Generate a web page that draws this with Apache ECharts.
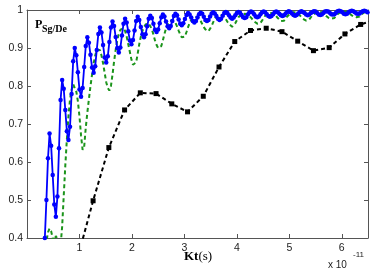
<!DOCTYPE html>
<html>
<head>
<meta charset="utf-8">
<script src="https://cdn.jsdelivr.net/npm/echarts@6/dist/echarts.min.js"></script>
<style>
html,body{margin:0;padding:0;background:#fff;}
#c{width:374px;height:275px;}
</style>
</head>
<body>
<div id="c"></div>
<script>
// time grid (units of 1e-11 s) for the blue and green curves
const tStart = 0.34;
const tStep = 0.03;

const blueY = [
0.40,0.50,0.61,0.675,
0.643,0.566,0.488,0.456,
0.509,0.636,0.763,0.816,
0.793,0.737,0.681,0.658,
0.693,0.779,0.865,0.900,
0.881,0.836,0.791,0.772,
0.795,0.850,0.905,0.928,
0.914,0.882,0.849,0.835,
0.852,0.895,0.937,0.954,
0.941,0.908,0.875,0.862,
0.878,0.916,0.954,0.970,
0.958,0.929,0.900,0.888,
0.901,0.933,0.964,0.977,
0.967,0.944,0.920,0.910,
0.921,0.946,0.971,0.982,
0.974,0.955,0.936,0.928,
0.936,0.957,0.977,0.985,
0.979,0.964,0.948,0.942,
0.949,0.965,0.981,0.988,
0.983,0.970,0.957,0.952,
0.958,0.971,0.984,0.990,
0.986,0.975,0.964,0.960,
0.965,0.976,0.987,0.992,
0.988,0.980,0.971,0.967,
0.971,0.980,0.989,0.993,
0.990,0.982,0.974,0.971,
0.974,0.983,0.991,0.994,
0.991,0.984,0.977,0.974,
0.977,0.985,0.992,0.995,
0.992,0.986,0.980,0.977,
0.980,0.986,0.992,0.995,
0.993,0.987,0.981,0.979,
0.981,0.988,0.994,0.996,
0.994,0.989,0.983,0.981,
0.983,0.989,0.994,0.996,
0.994,0.989,0.984,0.982,
0.984,0.989,0.994,0.996,
0.994,0.990,0.986,0.984,
0.986,0.991,0.995,0.997,
0.995,0.991,0.987,0.985,
0.987,0.991,0.995,0.997,
0.995,0.992,0.988,0.986,
0.988,0.992,0.995,0.997,
0.996,0.992,0.988,0.987,
0.988,0.992,0.996,0.997,
0.996,0.993,0.989,0.988,
0.989,0.993,0.997,0.998,
0.997,0.994,0.990,0.989,
0.990,0.994,0.997,0.998,
0.997,0.994,0.991,0.990,
0.991,0.994,0.997,0.998,
0.997,0.994,0.991
];

const greenY = [
0.36,0.39,0.415,0.425,0.418,0.40,0.392,0.405,0.41,0.39,
0.38,0.43,0.51,0.59,0.66,0.72,0.765,0.79,0.805,0.80,
0.785,0.76,0.72,0.67,0.632,0.64,0.69,0.73,0.765,0.80,
0.83,0.86,0.88,0.895,0.90,0.895,0.88,0.86,0.835,0.81,
0.795,0.788,0.80,0.83,0.865,0.895,0.92,0.938,0.948,0.952,
0.952,0.945,0.93,0.91,0.89,0.87,0.856,0.851,0.862,0.885,
0.91,0.93,0.945,0.955,0.962,0.965,0.965,0.96,0.95,0.935,
0.92,0.908,0.90,0.898,0.905,0.92,0.937,0.952,0.962,0.969,
0.973,0.974,0.972,0.966,0.957,0.946,0.936,0.928,0.925,0.93,
0.942,0.955,0.966,0.974,0.979,0.981,0.982,0.982,0.978,0.971,
0.963,0.955,0.949,0.945,0.944,0.948,0.958,0.968,0.977,0.983,
0.986,0.987,0.987,0.986,0.982,0.976,0.969,0.963,0.958,0.956,
0.958,0.965,0.973,0.981,0.986,0.989,0.99,0.99,0.99,0.988,
0.985,0.98,0.975,0.97,0.966,0.964,0.963,0.966,0.972,0.979,
0.985,0.989,0.991,0.992,0.992,0.991,0.988,0.984,0.979,0.974,
0.971,0.970,0.972,0.977,0.983,0.988,0.991,0.993,0.994,0.994,
0.993,0.99,0.986,0.981,0.977,0.974,0.972,0.972,0.975,0.98,
0.986,0.99,0.993,0.995,0.995,0.995,0.994,0.991,0.987,0.983,
0.98,0.978,0.977,0.977,0.979,0.984,0.989,0.993,0.995,0.996,
0.996,0.996,0.995,0.992,0.989,0.986,0.983,0.982,0.981,0.981,
0.983,0.987,0.991,0.994,0.996,0.997,0.997
];

const blackX = [0.96,1.26,1.56,1.86,2.16,2.46,2.76,3.06,3.36,3.66,3.96,4.26,4.56,4.86,5.16,5.46,5.76,6.06,6.36,6.66];
const blackY = [0.345,0.498,0.638,0.737,0.782,0.780,0.753,0.732,0.773,0.850,0.917,0.946,0.952,0.943,0.918,0.893,0.901,0.937,0.962,0.975];

const xTicks = [1,2,3,4,5,6];
const yTicks = [0.4,0.5,0.6,0.7,0.8,0.9,1];

function pairsFromGrid(ys){
  return ys.map((y,i)=>[Math.round((tStart + i*tStep)*1000)/1000, y]);
}
const bluePts = pairsFromGrid(blueY);
const greenPts = pairsFromGrid(greenY);
const blackPts = blackX.map((x,i)=>[x, blackY[i]]);

const chart = echarts.init(document.getElementById('c'), null, {renderer:'canvas'});
const sans = "'Liberation Sans', Arial, Helvetica, sans-serif";
const serif = "'Liberation Serif', 'Times New Roman', serif";
const axisColor = '#555';

const baseX = {
  type:'value', min:0, max:6.5, interval:1,
  axisLine:{show:true, onZero:false, lineStyle:{color:axisColor, width:1}},
  axisTick:{show:true, inside:true, length:4, lineStyle:{color:axisColor}},
  splitLine:{show:false}
};
const baseY = {
  type:'value', min:0.4, max:1, interval:0.1,
  axisLine:{show:true, onZero:false, lineStyle:{color:axisColor, width:1}},
  axisTick:{show:true, inside:true, length:4, lineStyle:{color:axisColor}},
  splitLine:{show:false}
};

chart.setOption({
  animation:false,
  backgroundColor:'#fff',
  grid:{left:27, right:6, top:10, bottom:37, containLabel:false},
  xAxis:[
    Object.assign({}, baseX, {
      position:'bottom',
      axisLabel:{show:true, margin:5, color:'#222', fontSize:10.5, fontFamily:sans,
        showMaxLabel:false, showMinLabel:false,
        formatter:function(v){ return xTicks.indexOf(Math.round(v*100)/100) >= 0 ? String(Math.round(v)) : ''; }}
    }),
    Object.assign({}, baseX, {position:'top', axisLabel:{show:false}})
  ],
  yAxis:[
    Object.assign({}, baseY, {
      position:'left',
      axisLabel:{show:true, margin:4, color:'#222', fontSize:10.5, fontFamily:sans,
        formatter:function(v){ const r = Math.round(v*10)/10; return yTicks.indexOf(r) >= 0 ? String(r) : ''; }}
    }),
    Object.assign({}, baseY, {position:'right', axisLabel:{show:false}})
  ],
  series:[
    {
      type:'line', data:greenPts, xAxisIndex:0, yAxisIndex:0,
      showSymbol:false, symbol:'none', clip:true,
      lineStyle:{color:'#1b941b', width:2, type:[4,3]},
      z:2
    },
    {
      type:'line', data:blackPts, xAxisIndex:0, yAxisIndex:0,
      symbol:'rect', symbolSize:5, clip:true,
      itemStyle:{color:'#000'},
      lineStyle:{color:'#000', width:2, type:[4,3]},
      z:3
    },
    {
      type:'line', data:bluePts, xAxisIndex:0, yAxisIndex:0,
      symbol:'circle', symbolSize:4.5, showAllSymbol:true, clip:true,
      itemStyle:{color:'#0000ff'},
      lineStyle:{color:'#0000ff', width:1.8},
      z:4
    }
  ],
  graphic:[
    {type:'text', left:35, top:19, style:{text:'P', font:"bold 12px "+serif, fill:'#000'}, z:10},
    {type:'text', left:42, top:24, style:{text:'Sg/De', font:"bold 10px "+serif, fill:'#000'}, z:10},
    {type:'text', left:184, top:250, style:{
      text:'{b|Kt}{n|(s)}',
      rich:{ b:{font:"bold 13px "+serif, fill:'#000'}, n:{font:"13px "+serif, fill:'#000'} }
    }, z:10},
    {type:'text', left:328, top:260, style:{text:'x 10', font:"10px "+sans, fill:'#222'}, z:10},
    {type:'text', left:353, top:251, style:{text:'-11', font:"8px "+sans, fill:'#222'}, z:10}
  ]
});
</script>
</body>
</html>
